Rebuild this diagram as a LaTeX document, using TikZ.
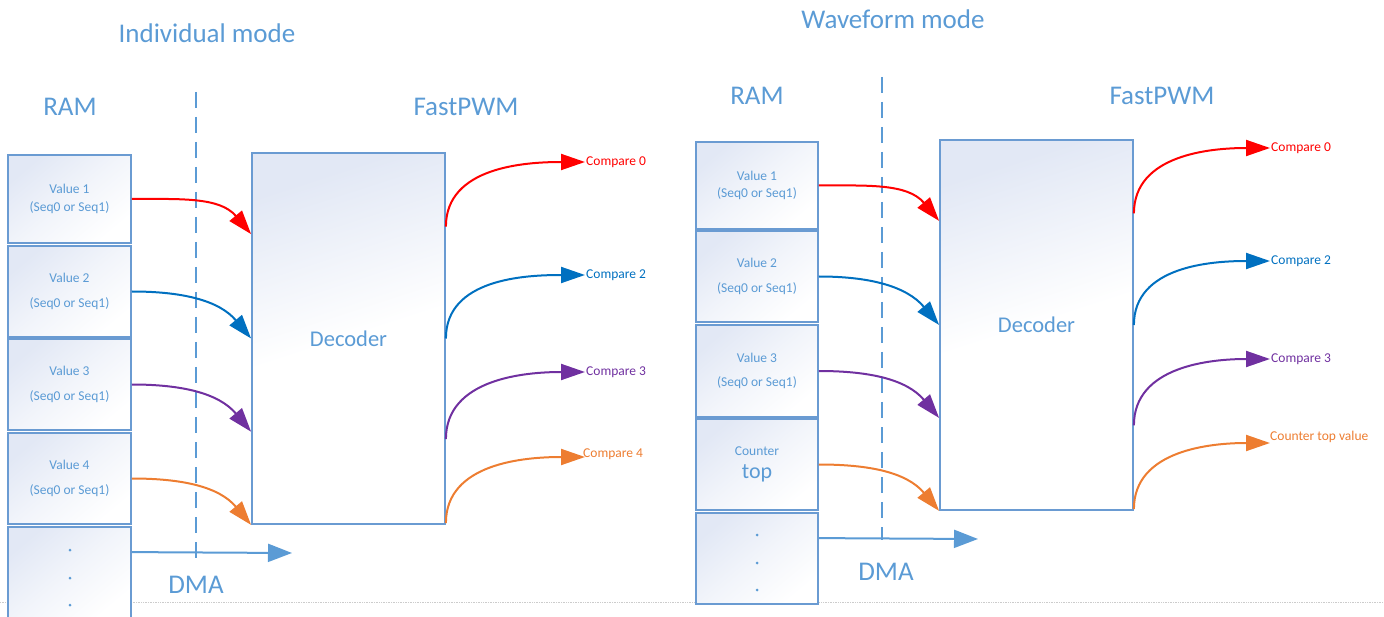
\documentclass[tikz,border=0pt]{standalone}
\usepackage{fontspec}
\setmainfont{Carlito}
\usetikzlibrary{calc,arrows.meta,positioning}

\definecolor{msblue}{HTML}{5B9BD5}
\definecolor{cellline}{HTML}{6A9BD2}
\definecolor{celltop}{HTML}{E2E8F5}
\definecolor{cred}{HTML}{FF0000}
\definecolor{cblue}{HTML}{0070C0}
\definecolor{cpurple}{HTML}{7030A0}
\definecolor{corange}{HTML}{ED7D31}

\tikzset{
  bigtext/.style={text=msblue,font=\fontsize{27}{32}\selectfont},
  ramcell/.style={draw=cellline,line width=1.8pt,top color=celltop,bottom color=white,
    middle color=white!55!celltop,shading angle=40,minimum width=123pt,minimum height=91pt,
    inner sep=0pt,text=msblue,align=center,font=\fontsize{13.5}{17.5}\selectfont},
  decoderbox/.style={ramcell,middle color=white,shading angle=18,minimum width=193pt,
    minimum height=371pt,font=\fontsize{22.5}{27}\selectfont},
  cmplabel/.style={anchor=west,inner sep=1pt,font=\fontsize{13.5}{16}\selectfont},
  feed/.style={line width=2pt,-{Triangle[length=24pt,width=16pt]}},
  divider/.style={msblue,line width=2.5pt,dash pattern=on 16pt off 9pt},
  dmaarrow/.style={msblue,line width=2pt,-{Triangle[length=24pt,width=18pt]}},
}

\begin{document}
\begin{tikzpicture}[x=1pt,y=1pt]
  \useasboundingbox (0,0) rectangle (1384,-617);
  \clip (0,0) rectangle (1384,-617);
  %ページの境界
  \draw[gray!40,line width=0.7pt,densely dotted] (0,-602) -- (1384,-602);

  %%%% Individual mode
  \node[bigtext] (ltitle) at (207,-33) {Individual mode};
  \node[bigtext] (lram) at (70,-107) {RAM};
  \node[bigtext] (lpwm) at (466,-107) {FastPWM};
  \draw[divider] (196,-92) -- (196,-562);
  %RAMのセル
  \node[ramcell,minimum height=88pt] (lv1) at (69.5,-199) {Value 1\\(Seq0 or Seq1)};
  \node[ramcell] (lv2) at (69.5,-291.5) {Value 2\\[7pt](Seq0 or Seq1)};
  \node[ramcell] (lv3) at (69.5,-384.5) {Value 3\\[7pt](Seq0 or Seq1)};
  \node[ramcell] (lv4) at (69.5,-478.5) {Value 4\\[7pt](Seq0 or Seq1)};
  \node[ramcell] (lv5) at (69.5,-572.5) {};
  \foreach \y in {550,578,605} \fill[msblue] (70,-\y) circle (1.5);
  %デコーダ
  \node[decoderbox] (ldec) at (348.5,-338.5) {Decoder};
  %入力の矢印
  \foreach \i/\c/\f in {1/cred/0.22,2/cblue/0.5,3/cpurple/0.75,4/corange/1}
    \draw[feed,\c] (lv\i.east) to[out=0,in=130] ($(ldec.north west)!\f!(ldec.south west)$);
  %出力
  \node[cmplabel,cred] (lc1) at (585,-162) {Compare 0};
  \node[cmplabel,cblue] (lc2) at (585,-275) {Compare 2};
  \node[cmplabel,cpurple] (lc3) at (585,-372) {Compare 3};
  \node[cmplabel,corange] (lc4) at (582,-454) {Compare 4};
  \draw[feed,cred] ($(ldec.north east)!0.2!(ldec.south east)$) to[out=90,in=180] (lc1.west);
  \draw[feed,cblue] ($(ldec.north east)!0.5!(ldec.south east)$) to[out=90,in=180] (lc2.west);
  \draw[feed,cpurple] ($(ldec.north east)!0.77!(ldec.south east)$) to[out=90,in=180] (lc3.west);
  \draw[feed,corange] ($(ldec.north east)!0.995!(ldec.south east)$) to[out=90,in=180] ([shift={(3,-3)}]lc4.west);
  %DMA
  \coordinate (ldmaend) at (292,-553);
  \draw[dmaarrow] ($(lv5.north east)+(0,-26)$) -- (ldmaend);
  \node[bigtext] (ldma) at (196,-585) {DMA};

  %%%% Waveform mode
  \node[bigtext] (rtitle) at (893,-19) {Waveform mode};
  \node[bigtext] (rram) at (757,-96) {RAM};
  \node[bigtext] (rpwm) at (1162,-96) {FastPWM};
  \draw[divider] (882,-77) -- (882,-540);
  %RAMのセル
  \node[ramcell,minimum width=122pt,minimum height=87pt] (rv1) at (757,-185.5) {Value 1\\(Seq0 or Seq1)};
  \node[ramcell,minimum width=122pt] (rv2) at (757,-276.5) {Value 2\\[7pt](Seq0 or Seq1)};
  \node[ramcell,minimum width=122pt,minimum height=92pt] (rv3) at (757,-371) {Value 3\\[7pt](Seq0 or Seq1)};
  \node[ramcell,minimum width=122pt] (rv4) at (757,-464.5) {Counter\\[5.5pt]{\fontsize{22}{22}\selectfont top}};
  \node[ramcell,minimum width=122pt] (rv5) at (757,-558.5) {};
  \foreach \y in {535,563,590} \fill[msblue] (757,-\y) circle (1.5);
  %デコーダ
  \node[decoderbox,minimum height=370pt] (rdec) at (1036.5,-325) {Decoder};
  %入力の矢印
  \foreach \i/\c/\f in {1/cred/0.22,2/cblue/0.5,3/cpurple/0.75,4/corange/1}
    \draw[feed,\c] (rv\i.east) to[out=0,in=130] ($(rdec.north west)!\f!(rdec.south west)$);
  %出力
  \node[cmplabel,cred] (rc1) at (1270,-148) {Compare 0};
  \node[cmplabel,cblue] (rc2) at (1270,-261) {Compare 2};
  \node[cmplabel,cpurple] (rc3) at (1270,-359) {Compare 3};
  \node[cmplabel,corange] (rc4) at (1269,-437) {Counter top value};
  \draw[feed,cred] ($(rdec.north east)!0.2!(rdec.south east)$) to[out=90,in=180] (rc1.west);
  \draw[feed,cblue] ($(rdec.north east)!0.5!(rdec.south east)$) to[out=90,in=180] (rc2.west);
  \draw[feed,cpurple] ($(rdec.north east)!0.77!(rdec.south east)$) to[out=90,in=180] (rc3.west);
  \draw[feed,corange] ($(rdec.north east)!0.995!(rdec.south east)$) to[out=90,in=180] ([shift={(1,-6)}]rc4.west);
  %DMA
  \coordinate (rdmaend) at (978,-539);
  \draw[dmaarrow] ($(rv5.north east)+(0,-26)$) -- (rdmaend);
  \node[bigtext] (rdma) at (886,-572) {DMA};
\end{tikzpicture}
\end{document}
